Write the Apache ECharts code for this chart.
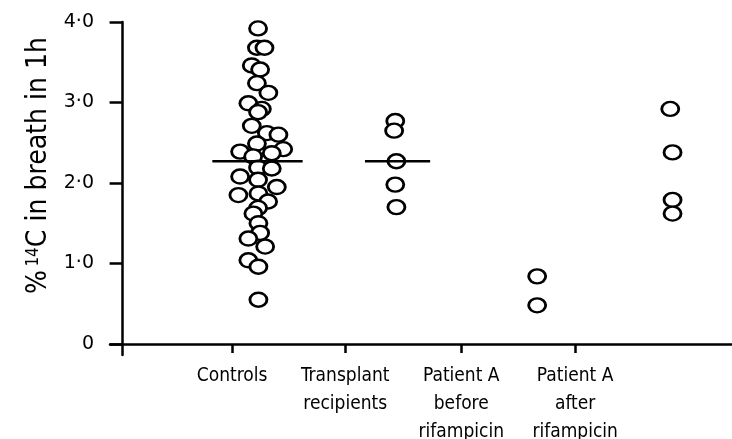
<!DOCTYPE html>
<html>
<head>
<meta charset="utf-8">
<script src="https://cdn.jsdelivr.net/npm/echarts@6/dist/echarts.min.js"></script>
<style>html,body{margin:0;padding:0;background:#fff}#c{width:732px;height:439px}</style>
</head>
<body>
<div id="c"></div>
<script>
// Category labels and where their ticks sit on the horizontal scale
const categories = ['Controls', 'Transplant\nrecipients', 'Patient A\nbefore\nrifampicin', 'Patient A\nafter\nrifampicin'];
const tickPos = [0.958, 1.947, 2.962, 3.958];
// Centres of each group's point column on the same scale
const groupCentres = [1.185, 2.385, 3.626, 4.80];

// % 14C in breath in 1h
const controlsValues = [3.92, 3.68, 3.68, 3.46, 3.41, 3.24, 3.12, 2.99, 2.92, 2.88, 2.71, 2.62, 2.60, 2.49, 2.42, 2.39, 2.37, 2.33, 2.19, 2.18, 2.08, 2.04, 1.95, 1.85, 1.87, 1.77, 1.69, 1.62, 1.50, 1.38, 1.31, 1.21, 1.04, 0.96, 0.55];
const controlsJitter = [0, -0.01, 0.056, -0.055, 0.018, -0.01, 0.09, -0.085, 0.033, 0, -0.055, 0.077, 0.178, -0.01, 0.22, -0.157, 0.12, -0.043, 0, 0.12, -0.157, 0, 0.164, -0.172, 0.003, 0.088, 0, -0.041, 0.003, 0.018, -0.085, 0.062, -0.085, 0.003, 0.003];
const transplantValues = [2.77, 2.65, 2.27, 1.98, 1.70];
const transplantJitter = [0, -0.01, 0.01, 0, 0.01];
const beforeValues = [0.84, 0.48];
const beforeJitter = [0, 0];
const afterValues = [2.92, 2.38, 1.79, 1.62];
const afterJitter = [-0.01, 0.01, 0.01, 0.01];

// group means (horizontal bars)
const controlsMean = 2.27;
const transplantMean = 2.27;
const controlsMeanSpan = [-0.40, 0.39];
const transplantMeanSpan = [-0.265, 0.305];

const yTicks = [0, 1, 2, 3, 4];

const FONT = '"DejaVu Sans Condensed", "Liberation Sans Narrow", "DejaVu Sans", sans-serif';
const FONT_WIDE = '"DejaVu Sans", sans-serif';
const ellipse = 'path://M0,7A8.5,7 0 1,1 17,7A8.5,7 0 1,1 0,7Z';

function pts(values, jitter, centre) {
  return values.map((v, i) => [centre + jitter[i], v]);
}
function scatter(data) {
  return {
    type: 'scatter', data: data, symbol: ellipse, symbolSize: [17, 14],
    itemStyle: { color: '#fff', borderColor: '#000', borderWidth: 2.6, opacity: 1 },
    z: 2, silent: true, animation: false
  };
}
function meanLine(centre, span, val) {
  return {
    type: 'line', data: [[centre + span[0], val], [centre + span[1], val]],
    symbol: 'none', lineStyle: { color: '#000', width: 2.5 }, z: 5,
    silent: true, animation: false
  };
}

const chart = echarts.init(document.getElementById('c'));
chart.setOption({
  animation: false,
  backgroundColor: '#fff',
  grid: { left: 110, right: 0, top: 22, bottom: 84, containLabel: false, outerBoundsMode: 'none' },
  xAxis: {
    type: 'value', min: -0.11, max: 5.33,
    axisLine: { show: true, onZero: true, lineStyle: { color: '#000', width: 2.5 } },
    axisTick: { show: true, customValues: tickPos, length: 9, lineStyle: { color: '#000', width: 2.5 } },
    axisLabel: {
      show: true, customValues: tickPos, margin: 7,
      formatter: v => { const i = tickPos.indexOf(v); return i >= 0 ? categories[i] : ''; },
      color: '#000', fontFamily: FONT, fontSize: 19, lineHeight: 28, align: 'center'
    },
    splitLine: { show: false }
  },
  yAxis: {
    type: 'value', min: -0.137, max: 4,
    name: '{a|%} {s|14}{a|C in breath in 1h}',
    nameLocation: 'middle', nameRotate: 90, nameGap: 54,
    nameTextStyle: {
      padding: [0, 0, 0, 46],
      rich: {
        a: { fontFamily: FONT, fontSize: 28, color: '#000' },
        s: { fontFamily: FONT, fontSize: 17, color: '#000', verticalAlign: 'top', padding: [0, 0, 10, 0] }
      }
    },
    axisLine: { show: true, onZero: true, lineStyle: { color: '#000', width: 2.5 } },
    axisTick: { show: true, customValues: yTicks, length: 13, lineStyle: { color: '#000', width: 2.5 } },
    axisLabel: {
      show: true, customValues: yTicks, margin: 16,
      formatter: v => v === 0 ? '0' : v.toFixed(1).replace('.', '·'),
      color: '#000', fontFamily: FONT_WIDE, fontSize: 19
    },
    splitLine: { show: false }
  },
  series: [
    scatter(pts(controlsValues, controlsJitter, groupCentres[0])),
    scatter(pts(transplantValues, transplantJitter, groupCentres[1])),
    scatter(pts(beforeValues, beforeJitter, groupCentres[2])),
    scatter(pts(afterValues, afterJitter, groupCentres[3])),
    meanLine(groupCentres[0], controlsMeanSpan, controlsMean),
    meanLine(groupCentres[1], transplantMeanSpan, transplantMean)
  ]
});
</script>
</body>
</html>
